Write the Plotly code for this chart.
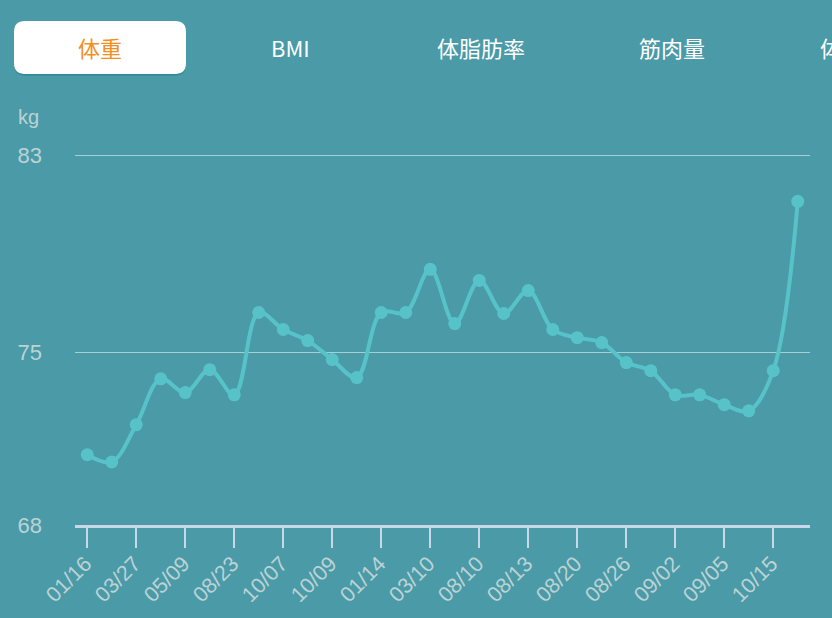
"""Weight trend chart (体重) with the tab bar above it."""

import plotly.graph_objects as go

# data
date_labels = [
    "01/16", "03/27", "05/09", "08/23", "10/07", "10/09", "01/14", "03/10",
    "08/10", "08/13", "08/20", "08/26", "09/02", "09/05", "10/15",
]
weights = [
    70.85, 70.56, 72.07, 73.93, 73.37, 74.30, 73.28, 76.62, 75.93, 75.48,
    74.71, 73.98, 76.62, 76.62, 78.37, 76.17, 77.92, 76.58, 77.51, 75.93,
    75.60, 75.40, 74.59, 74.26, 73.28, 73.28, 72.88, 72.63, 74.26, 81.13,
]
y_ticks = [68, 75, 83]
tab_names = ["体重", "BMI", "体脂肪率", "筋肉量", "体"]

W, H = 832, 618
M_L, M_R, M_T, M_B = 75, 22, 154, 93
BG = "#4a9aa8"
LINE = "#57c3c9"
LABEL = "#bcd3d4"
AXIS = "#c9d8e8"
GRID = "#a4d0d5"


def px(x):
    return (x - M_L) / (W - M_L - M_R)


def py(y):
    return (H - M_B - y) / (H - M_T - M_B)


def rounded_rect(x0, y0, x1, y1, r):
    """SVG path in paper coords for a rounded box given in pixels."""
    pts = [
        f"M {px(x0 + r)},{py(y0)}",
        f"L {px(x1 - r)},{py(y0)}",
        f"Q {px(x1)},{py(y0)} {px(x1)},{py(y0 + r)}",
        f"L {px(x1)},{py(y1 - r)}",
        f"Q {px(x1)},{py(y1)} {px(x1 - r)},{py(y1)}",
        f"L {px(x0 + r)},{py(y1)}",
        f"Q {px(x0)},{py(y1)} {px(x0)},{py(y1 - r)}",
        f"L {px(x0)},{py(y0 + r)}",
        f"Q {px(x0)},{py(y0)} {px(x0 + r)},{py(y0)}",
        "Z",
    ]
    return " ".join(pts)


x_idx = list(range(len(weights)))

fig = go.Figure()
fig.add_trace(
    go.Scatter(
        x=x_idx,
        y=weights,
        mode="lines+markers",
        line=dict(color=LINE, width=4, shape="spline", smoothing=1.0),
        marker=dict(color=LINE, size=13),
        cliponaxis=False,
        hoverinfo="y",
    )
)

shapes = [
    dict(type="path", xref="paper", yref="paper", layer="below",
         path=rounded_rect(14, 22.5, 186, 75.5, 11),
         fillcolor="#2f8893", line=dict(width=0)),
    dict(type="path", xref="paper", yref="paper", layer="below",
         path=rounded_rect(14, 21, 186, 74, 11),
         fillcolor="#ffffff", line=dict(width=0)),
]

annotations = []
tab_centers = [100, 290, 481, 672]
for i, name in enumerate(tab_names):
    selected = i == 0
    if i < len(tab_centers):
        ax, anchor = px(tab_centers[i]), "center"
    else:
        ax, anchor = px(818), "left"
    annotations.append(dict(
        text=name, x=ax, y=py(47), xref="paper", yref="paper",
        xanchor=anchor, yanchor="middle", showarrow=False,
        font=dict(size=22, color="#f28f22" if selected else "#ffffff",
                  family="Noto Sans CJK JP"),
    ))
annotations.append(dict(
    text="kg", x=px(16), y=py(117), xref="paper", yref="paper",
    xanchor="left", yanchor="middle", showarrow=False,
    font=dict(size=20, color=LABEL, family="Liberation Sans, Arial"),
))

fig.update_layout(
    width=W,
    height=H,
    margin=dict(l=M_L, r=M_R, t=M_T, b=M_B),
    paper_bgcolor=BG,
    plot_bgcolor=BG,
    showlegend=False,
    shapes=shapes,
    annotations=annotations,
    font=dict(family="Liberation Sans, Arial", color=LABEL),
    xaxis=dict(
        range=[-0.5, len(weights) - 0.5],
        tickvals=x_idx[::2],
        ticktext=date_labels,
        tickangle=-45,
        tickfont=dict(size=21.5, color=LABEL),
        ticks="outside",
        ticklen=20,
        tickwidth=2,
        tickcolor=AXIS,
        ticklabelstandoff=-5,
        ticklabelshift=-2,
        showline=True,
        linecolor=AXIS,
        linewidth=2.5,
        showgrid=False,
        zeroline=False,
        automargin=False,
        fixedrange=True,
    ),
    yaxis=dict(
        range=[68, 83.05],
        tickvals=y_ticks,
        tickfont=dict(size=22, color=LABEL),
        ticks="",
        ticklabelstandoff=32,
        showgrid=True,
        gridcolor=GRID,
        gridwidth=1,
        showline=False,
        zeroline=False,
        automargin=False,
        fixedrange=True,
    ),
)

fig.write_html(
    "out.html",
    config={"displayModeBar": False},
    post_script="document.body.style.margin='0';document.body.style.overflow='hidden';",
)
